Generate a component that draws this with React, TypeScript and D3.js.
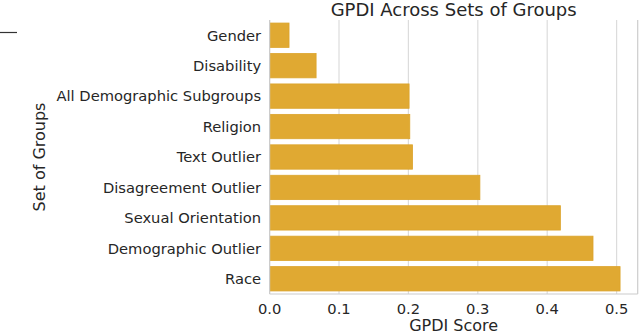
import React, { useRef, useEffect } from "react";
import * as d3 from "d3";

// values
const groups = [
  "Gender",
  "Disability",
  "All Demographic Subgroups",
  "Religion",
  "Text Outlier",
  "Disagreement Outlier",
  "Sexual Orientation",
  "Demographic Outlier",
  "Race",
];
const gpdiScores = [0.028, 0.067, 0.201, 0.202, 0.206, 0.303, 0.419, 0.466, 0.505];
const xTicks = [0, 0.1, 0.2, 0.3, 0.4, 0.5];

const width = 640;
const height = 333;
const barColor = "#e0a932";
const textColor = "#262626";
const font = "DejaVu Sans, sans-serif";

export default function App() {
  const chartRef = useRef<SVGSVGElement>(null);

  const margin = { top: 20, right: 2.3, bottom: 39, left: 269.6 };

  function drawChart(svg: d3.Selection<SVGSVGElement, unknown, null, undefined>) {
    svg.selectAll("*").remove();

    const x = d3
      .scaleLinear()
      .domain([0, 0.5304])
      .range([margin.left, width - margin.right]);

    const y = d3
      .scaleBand()
      .domain(groups)
      .range([margin.top, height - margin.bottom])
      .paddingInner(0.2)
      .paddingOuter(0.1);

    const plotBottom = height - margin.bottom;

    // grid lines
    svg
      .append("g")
      .selectAll("line")
      .data(xTicks)
      .join("line")
      .attr("x1", (d) => x(d))
      .attr("x2", (d) => x(d))
      .attr("y1", margin.top)
      .attr("y2", plotBottom)
      .attr("stroke", "#dcdcdc")
      .attr("stroke-width", 1.2);

    // bars
    svg
      .append("g")
      .selectAll("rect")
      .data(groups)
      .join("rect")
      .attr("x", x(0))
      .attr("y", (d) => y(d) as number)
      .attr("width", (d, i) => x(gpdiScores[i]) - x(0))
      .attr("height", y.bandwidth())
      .attr("fill", barColor)
      .attr("stroke", "#dca42c")
      .attr("stroke-width", 0.8);

    // spines (left, bottom, right)
    const spines = svg.append("g").attr("stroke", "#cccccc").attr("stroke-width", 1.2);
    spines
      .append("line")
      .attr("x1", x(0))
      .attr("x2", x(0))
      .attr("y1", margin.top)
      .attr("y2", plotBottom);
    spines
      .append("line")
      .attr("x1", x(0))
      .attr("x2", width - margin.right)
      .attr("y1", plotBottom)
      .attr("y2", plotBottom);
    spines
      .append("line")
      .attr("x1", width - margin.right)
      .attr("x2", width - margin.right)
      .attr("y1", margin.top)
      .attr("y2", plotBottom);

    // y tick labels
    svg
      .append("g")
      .selectAll("text")
      .data(groups)
      .join("text")
      .attr("x", x(0) - 8.5)
      .attr("y", (d) => (y(d) as number) + y.bandwidth() / 2)
      .attr("dy", "0.36em")
      .attr("text-anchor", "end")
      .attr("fill", textColor)
      .style("font-size", "14.7px")
      .style("font-family", font)
      .text((d) => d);

    // x tick labels
    svg
      .append("g")
      .selectAll("text")
      .data(xTicks)
      .join("text")
      .attr("x", (d) => x(d))
      .attr("y", plotBottom + 20)
      .attr("text-anchor", "middle")
      .attr("fill", textColor)
      .style("font-size", "14.7px")
      .style("font-family", font)
      .text((d) => d3.format(".1f")(d));

    // title
    svg
      .append("text")
      .attr("x", (margin.left + width - margin.right) / 2)
      .attr("y", 16)
      .attr("text-anchor", "middle")
      .attr("fill", textColor)
      .style("font-size", "18px")
      .style("font-family", font)
      .text("GPDI Across Sets of Groups");

    // axis labels
    svg
      .append("text")
      .attr("x", (margin.left + width - margin.right) / 2)
      .attr("y", 331)
      .attr("text-anchor", "middle")
      .attr("fill", textColor)
      .style("font-size", "16px")
      .style("font-family", font)
      .text("GPDI Score");

    svg
      .append("text")
      .attr("transform", `translate(45,${(margin.top + plotBottom) / 2}) rotate(-90)`)
      .attr("text-anchor", "middle")
      .attr("fill", textColor)
      .style("font-size", "16px")
      .style("font-family", font)
      .text("Set of Groups");

    // leftover piece of the neighbouring panel at the top left
    svg
      .append("line")
      .attr("x1", 0)
      .attr("x2", 17)
      .attr("y1", 32.5)
      .attr("y2", 32.5)
      .attr("stroke", "#333333")
      .attr("stroke-width", 1.2);
  }

  useEffect(() => {
    drawChart(d3.select(chartRef.current!));
  });

  return (
    <svg
      ref={chartRef}
      width={width}
      height={height}
      style={{ position: "absolute", left: 0, top: 0, background: "#fff" }}
    />
  );
}
